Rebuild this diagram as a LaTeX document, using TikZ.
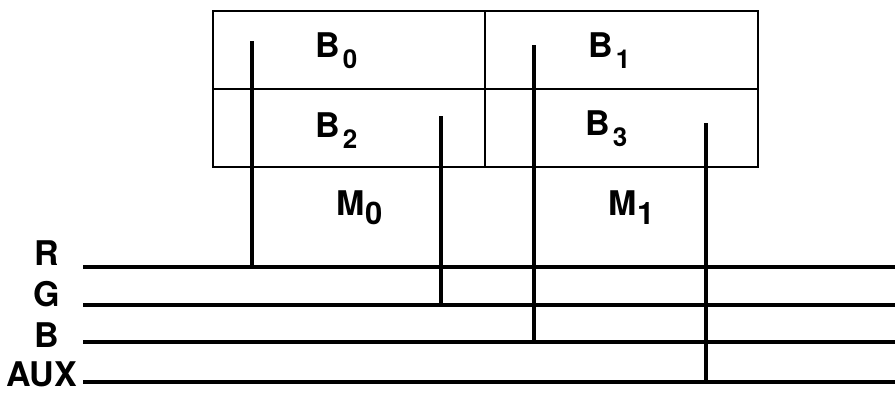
\documentclass[tikz,border=0pt]{standalone}
\usepackage{fontspec}
\setmainfont{TeX Gyre Heros}
\newcommand{\bidx}[1]{\kern3pt\raisebox{-11pt}{\fontsize{26}{26}\selectfont #1}}
\newcommand{\midx}[1]{\kern0.5pt\raisebox{-9pt}{\fontsize{31}{31}\selectfont #1}}

\begin{document}
\begin{tikzpicture}[x=1pt,y=1pt,yscale=-1,xscale=1]
\tikzset{
  busline/.style={line width=4pt},
  tapline/.style={line width=3.5pt},
  cellbox/.style={line width=2pt},
  lbl/.style={anchor=base west,inner sep=0pt,font=\fontsize{34}{34}\selectfont\bfseries}
}
\useasboundingbox (0,0) rectangle (895,392);

%Shape: Rectangle [B0]
\draw [cellbox] (213,11) -- (485,11) -- (485,89) -- (213,89) -- cycle ;
%Shape: Rectangle [B1]
\draw [cellbox] (485,11) -- (758,11) -- (758,89) -- (485,89) -- cycle ;
%Shape: Rectangle [B2]
\draw [cellbox] (213,89) -- (485,89) -- (485,167) -- (213,167) -- cycle ;
%Shape: Rectangle [B3]
\draw [cellbox] (485,89) -- (758,89) -- (758,167) -- (485,167) -- cycle ;

% Bus end points
\coordinate (busR) at (83,267);   \coordinate (busRend) at (895,267);
\coordinate (busG) at (83,305);   \coordinate (busGend) at (895,305);
\coordinate (busB) at (83,342);   \coordinate (busBend) at (895,342);
\coordinate (busAUX) at (83,382); \coordinate (busAUXend) at (895,382);

%Straight Lines [buses]
\draw [busline] (busR) -- (busRend) ;
\draw [busline] (busG) -- (busGend) ;
\draw [busline] (busB) -- (busBend) ;
\draw [busline] (busAUX) -- (busAUXend) ;

% Tap tops
\coordinate (tapA) at (252,41);
\coordinate (tapB) at (441,116);
\coordinate (tapC) at (534,45);
\coordinate (tapD) at (706,123);

%Straight Lines [taps]
\draw [tapline] (tapA) -- (tapA |- busR) ;
\draw [tapline] (tapB) -- (tapB |- busG) ;
\draw [tapline] (tapC) -- (tapC |- busB) ;
\draw [tapline] (tapD) -- (tapD |- busAUX) ;

% Text Node
\node [lbl] (txtB0) at (315,57) {B\bidx{0}};
% Text Node
\node [lbl] (txtB1) at (588,57) {B\bidx{1}};
% Text Node
\node [lbl] (txtB2) at (315,137) {B\bidx{2}};
% Text Node
\node [lbl] (txtB3) at (585,135) {B\bidx{3}};
% Text Node
\node [lbl] (txtM0) at (336,215) {M\midx{0}};
% Text Node
\node [lbl] (txtM1) at (608,215) {M\midx{1}};
% Text Node
\node [lbl] (lblR) at (34,265) {R};
% Text Node
\node [lbl] (lblG) at (33,306) {G};
% Text Node
\node [lbl] (lblB) at (34,347) {B};
% Text Node
\node [lbl] (lblAUX) at (6,386) {AUX};

\end{tikzpicture}
\end{document}
